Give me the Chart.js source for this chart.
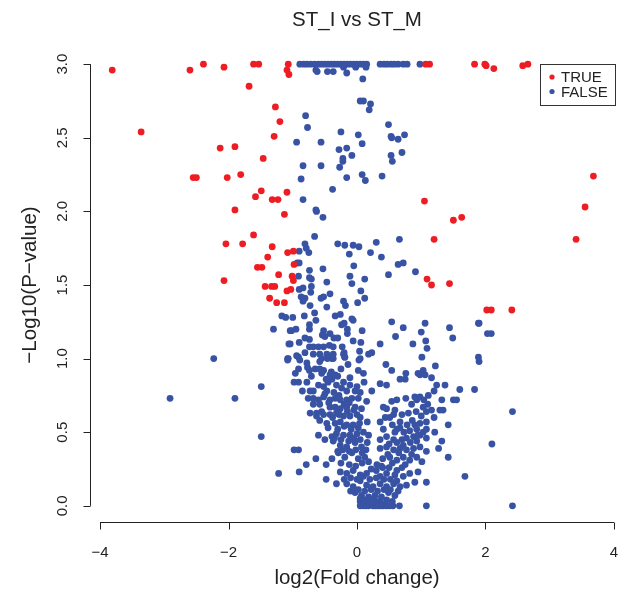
<!DOCTYPE html>
<html>
<head>
<meta charset="utf-8">
<script src="https://cdn.jsdelivr.net/npm/chart.js@4.4.1/dist/chart.umd.min.js"></script>
<style>
  body { margin: 0; background: #fff; }
  canvas { display: block; }
</style>
</head>
<body>
<canvas id="chart" width="624" height="594"></canvas>
<script>
// significant genes (TRUE)
const trueFC = [-3.81, -2.60, -2.39, -2.07, -1.61, -1.53, -1.07, -1.09, -1.06, -1.68,
  -1.27, -1.20, -1.29, -3.36, -2.13, -1.90, -1.46, -2.55, -2.50, -2.02,
  -1.81, -1.49, -1.58, -1.32, -1.23, -1.09, -1.90, -1.13, -1.61, -2.04,
  -1.78, -1.32, -1.08, -1.39, -1.55, -1.48, -1.22, -1.01, -2.07, -1.43,
  -1.33, -1.28, -1.09, -1.36, -1.25, -1.13, -0.99, -0.98, -0.99, -1.03,
  1.07, 1.13, 1.83, 1.99, 2.01, 2.13, 2.58, 2.66, 1.05, 1.50,
  1.63, 1.20, 1.09, 1.16, 1.44, 2.02, 2.09, 2.41, 3.68, 3.55, 3.41];
const trueP = [2.96, 2.96, 3.00, 2.98, 3.00, 3.00, 3.00, 2.96, 2.93, 2.85,
  2.71, 2.61, 2.51, 2.54, 2.43, 2.44, 2.36, 2.23, 2.23, 2.23,
  2.25, 2.14, 2.10, 2.08, 2.08, 2.13, 2.01, 1.98, 1.84, 1.78,
  1.78, 1.76, 1.72, 1.69, 1.62, 1.62, 1.57, 1.56, 1.53, 1.49,
  1.49, 1.49, 1.46, 1.41, 1.38, 1.38, 1.73, 1.64, 1.53, 1.47,
  3.00, 3.00, 3.00, 3.00, 2.99, 2.97, 2.99, 3.00, 2.07, 1.94,
  1.96, 1.81, 1.54, 1.50, 1.51, 1.33, 1.33, 1.33, 2.24, 2.03, 1.81];

// not significant genes (FALSE)
const falseFC = [
  // capped at 3.0
  -0.89, -0.83, -0.78, -0.72, -0.66, -0.60, -0.55, -0.50, -0.45, -0.40,
  -0.35, -0.30, -0.25, -0.20, -0.15, -0.10, -0.05, 0.00, 0.05, 0.10,
  0.15, 0.36, 0.42, 0.47, 0.53, 0.58, 0.64, 0.72, 0.78, 0.98,
  // upper area
  -0.64, -0.62, -0.46, -0.37, -0.21, -0.16, -0.02, 0.14, 0.09, 0.05,
  0.10, 0.21, 0.19, -0.80, 0.49, -0.77, -0.25, 0.02, 0.53, 0.54,
  0.64, 0.74, -0.94, -0.56, 0.08, -0.28, -0.16, -0.08, -0.22, -0.22,
  0.53, 0.70, 0.55, -0.84, -0.56, -0.27, -0.16, 0.08, 0.13, 0.39,
  -0.87, -0.38, -0.84, -0.64,
  // middle area
  -0.63, -0.53, -0.66, -0.81, -0.79, -0.75, -0.90, -0.30, -0.19, -0.06,
  0.03, -0.12, 0.30, 0.21, 0.38, 0.66, -0.93, -0.90, -0.05, 0.64,
  0.72, 0.91, 0.49, -0.74, -0.53, -0.91, -0.74, -0.71, -0.11, -0.47,
  0.12, -0.08, -0.71, -0.84, -0.90, -0.72, 0.06, -0.42, -0.87, -0.81,
  -0.84, -0.52, -0.56, 0.12, -0.21, -0.18, 0.01, -0.73, -0.47, -0.66,
  -1.17, -1.11, -1.00, -0.82, -0.34, -0.26, -0.64, -0.08, -0.06, 0.54,
  0.72, 1.06, 1.44, 1.89, -0.74, -0.74, -1.02, -0.95, -0.24, -0.20,
  -0.15, -0.15, 0.08, 0.60, 1.00, 1.07, 1.09, 1.49, 0.87, -0.52,
  -0.54, -0.50, -0.42, -0.36, -0.30, -0.81, -0.74, -0.90, -1.04, -0.06,
  0.06, 0.36, -0.74, -0.68, -0.60, -0.52, -0.43, -0.37, -0.23, -0.81,
  -0.68, -0.58, -0.47, -0.39, -0.20, 0.04, 0.18, 0.23, -1.07, -0.91,
  -0.55, -0.39, -0.19, 0.05, 1.01, 1.89, -1.30, -1.04, -1.06, -2.23,
  -1.08, 1.90, 2.03, 2.09, 1.90,
  // lower left and far points
  -1.08, -1.49, -2.91, -1.90, -1.49, -1.22, 1.83, 2.42, 2.10, 2.42,
  // volcano arms
  -0.94, -0.37, -0.21, -0.19, -0.89, -0.78, -0.58, -0.46, -0.37, -0.14,
  0.03, 0.45, 1.22, -0.96, -0.91, -0.77, -0.74, -0.71, -0.65, -0.58,
  -0.52, -0.42, -0.34, -0.21, -0.11, 0.02, 0.10, 0.11, 0.36, 0.46,
  0.54, 0.76, 0.67, 0.75, 0.95, 1.03, 0.98, 1.06, 1.16, 1.24,
  1.37, 1.60, -0.98, -0.91, -0.78, -0.85, -0.73, -0.68, -0.52, -0.47,
  -0.45, -0.39, -0.32, -0.24, -0.16, -0.03, 0.05, -0.11, 0.00, 0.23,
  -0.76, -0.68, -0.60, -0.52, -0.42, -0.34, -0.26, -0.16, -0.08, 0.02,
  0.15, 0.54, 0.62, 0.76, 0.90, 0.98, 0.93, 1.04, 1.11, 1.20,
  1.32, 1.50, 1.55, -0.68, -0.58, -0.42, -0.34, -0.26, -0.16, -0.03,
  0.07, 0.41, 0.46, 0.59, 0.57, 1.03, 1.08, 1.16, 1.29, 1.34,
  -0.73, -0.63, -0.52, -0.63, -0.42, -0.32, -0.21, -0.11, 0.00, 0.05,
  0.36, 0.44, 0.51, 0.67, 0.90, 0.98, 1.08, 1.20, 1.42, -0.58,
  -0.47, -0.34, -0.26, -0.16, -0.06, 0.04, 0.16, 0.41, 0.59, 0.67,
  0.73, 0.82, 0.93, 1.03, 1.08, 1.21, -0.60, -0.50, -0.39, -0.32,
  -0.21, -0.11, 0.00, 0.10, 0.18, 0.36, 0.46, 0.57, 0.70, 0.77,
  0.88, 0.98, 1.08, 1.32, 1.27, 1.42, -0.98, -0.91, -0.64, -0.79,
  -0.90, -0.48, -0.37, -0.26, -0.16, -0.03, 0.07, 0.16, 0.36, 0.46,
  0.57, 0.67, 0.77, 0.88, 0.98, 1.08, -0.39, -0.29, -0.19, -0.08,
  0.02, 0.12, 0.31, 0.38, 0.51, 0.62, 0.72, 0.82, 0.93, 1.01,
  0.95, 1.68, 1.08, 0.90, -0.26, -0.16, -0.06, 0.05, 0.15, 0.36,
  0.46, 0.59, 0.72, 0.82, -0.48, -0.32, -0.16, -0.06, 0.05, 0.15,
  0.25, 0.36, 0.46, 0.57, 0.67, 0.77, -0.03, 0.07, 0.18, 0.28,
  0.38, 0.49, 0.59, 0.15, 0.36, 0.25, 0.05, 0.46,
  // at zero
  0.10, 0.18, 0.25, 0.33, 0.41, 0.51, 0.66, 1.08];
const falseP = [
  3.00, 3.00, 3.00, 3.00, 3.00, 3.00, 3.00, 3.00, 3.00, 3.00,
  3.00, 3.00, 3.00, 3.00, 3.00, 3.00, 3.00, 3.00, 3.00, 3.00,
  3.00, 3.00, 3.00, 3.00, 3.00, 3.00, 3.00, 3.00, 3.00, 3.00,
  2.96, 2.95, 2.95, 2.95, 2.98, 2.94, 2.98, 2.98, 2.90, 2.75,
  2.75, 2.73, 2.69, 2.65, 2.59, 2.57, 2.54, 2.52, 2.51, 2.50,
  2.49, 2.52, 2.47, 2.47, 2.46, 2.42, 2.43, 2.38, 2.36, 2.34,
  2.38, 2.40, 2.34, 2.31, 2.31, 2.30, 2.23, 2.25, 2.21, 2.24,
  2.22, 2.15, 2.08, 2.01,
  2.00, 1.96, 1.83, 1.78, 1.75, 1.72, 1.73, 1.78, 1.77, 1.77,
  1.76, 1.71, 1.79, 1.72, 1.69, 1.81, 1.65, 1.65, 1.63, 1.64,
  1.65, 1.59, 1.57, 1.60, 1.61, 1.56, 1.55, 1.54, 1.56, 1.52,
  1.54, 1.51, 1.49, 1.48, 1.47, 1.45, 1.46, 1.44, 1.42, 1.41,
  1.39, 1.42, 1.41, 1.41, 1.39, 1.36, 1.38, 1.36, 1.35, 1.31,
  1.29, 1.28, 1.28, 1.29, 1.29, 1.30, 1.26, 1.27, 1.26, 1.25,
  1.21, 1.24, 1.21, 1.24, 1.23, 1.20, 1.19, 1.20, 1.23, 1.24,
  1.20, 1.17, 1.19, 1.15, 1.18, 1.12, 1.07, 1.14, 1.10, 1.19,
  1.16, 1.15, 1.17, 1.14, 1.14, 1.14, 1.13, 1.11, 1.10, 1.12,
  1.11, 1.10, 1.08, 1.08, 1.08, 1.08, 1.09, 1.08, 1.08, 1.04,
  1.03, 1.03, 1.03, 1.02, 1.04, 1.05, 1.03, 1.04, 1.00, 1.01,
  1.00, 1.00, 1.01, 1.00, 1.01, 1.01, 1.20, 1.19, 1.10, 1.00,
  1.00, 1.24, 1.17, 1.17, 0.98,
  0.99, 0.81, 0.73, 0.73, 0.47, 0.22, 0.79, 0.64, 0.42, 0.00,
  1.02, 1.03, 1.03, 1.01, 0.99, 0.97, 0.98, 1.00, 1.00, 0.96,
  0.99, 0.96, 0.95, 0.90, 0.93, 0.94, 0.92, 0.88, 0.93, 0.93,
  0.92, 0.89, 0.89, 0.84, 0.87, 0.92, 0.90, 0.84, 0.83, 0.82,
  0.92, 0.90, 0.86, 0.86, 0.90, 0.92, 0.89, 0.89, 0.87, 0.82,
  0.82, 0.79, 0.84, 0.84, 0.84, 0.78, 0.78, 0.78, 0.81, 0.78,
  0.84, 0.86, 0.82, 0.80, 0.78, 0.78, 0.77, 0.82, 0.81, 0.78,
  0.73, 0.73, 0.72, 0.74, 0.72, 0.73, 0.72, 0.72, 0.73, 0.73,
  0.71, 0.71, 0.72, 0.73, 0.74, 0.74, 0.72, 0.72, 0.75, 0.78,
  0.72, 0.72, 0.72, 0.69, 0.69, 0.67, 0.67, 0.66, 0.67, 0.67,
  0.66, 0.67, 0.66, 0.65, 0.62, 0.67, 0.64, 0.65, 0.65, 0.65,
  0.63, 0.63, 0.62, 0.61, 0.62, 0.63, 0.61, 0.61, 0.62, 0.60,
  0.57, 0.60, 0.60, 0.57, 0.55, 0.56, 0.57, 0.60, 0.55, 0.58,
  0.56, 0.56, 0.57, 0.55, 0.55, 0.56, 0.57, 0.52, 0.50, 0.53,
  0.50, 0.51, 0.52, 0.50, 0.52, 0.50, 0.48, 0.45, 0.47, 0.49,
  0.48, 0.48, 0.49, 0.50, 0.48, 0.45, 0.47, 0.45, 0.45, 0.46,
  0.47, 0.48, 0.46, 0.44, 0.39, 0.33, 0.38, 0.38, 0.32, 0.28,
  0.23, 0.28, 0.44, 0.41, 0.40, 0.43, 0.40, 0.43, 0.39, 0.40,
  0.38, 0.39, 0.38, 0.39, 0.40, 0.37, 0.32, 0.36, 0.33, 0.36,
  0.32, 0.33, 0.28, 0.27, 0.33, 0.31, 0.33, 0.31, 0.33, 0.30,
  0.23, 0.20, 0.16, 0.16, 0.23, 0.22, 0.24, 0.21, 0.22, 0.20,
  0.22, 0.21, 0.20, 0.22, 0.18, 0.15, 0.15, 0.13, 0.17, 0.14,
  0.13, 0.15, 0.13, 0.15, 0.13, 0.14, 0.09, 0.07, 0.06, 0.07,
  0.06, 0.09, 0.07, 0.03, 0.03, 0.04, 0.03, 0.04,
  0.00, 0.00, 0.00, 0.00, 0.00, 0.00, 0.00, 0.00];

// dense core of the volcano (FALSE)
const coreFC = [-0.55, -0.48, -0.40, -0.30, -0.25, -0.60, -0.50, -0.36, -0.28, -0.44,
  -0.20, -0.12, -0.55, -0.38, -0.28, -0.15, -0.05, -0.45, -0.30, -0.20,
  -0.09, 0.02, -0.35, -0.25, -0.13, -0.05, 0.05, -0.30, -0.22, -0.12,
  -0.02, 0.08, 0.14, -0.25, -0.12, -0.02, 0.08, 0.18, -0.20, -0.10,
  0.00, 0.10, 0.20, 0.30, 0.42, 0.52, 0.62, -0.10, 0.02, 0.12,
  0.22, 0.32, 0.42, 0.52, 0.64, 0.05, 0.12, 0.20, 0.30, 0.40,
  0.55, 0.22, 0.30, 0.40, 0.50, 0.62, 0.70, 0.40, 0.48, 0.55,
  0.65, 0.75, 0.85, 0.50, 0.62, 0.72, 0.83, 0.93, 0.55, 0.62,
  0.78, 0.86, 0.95, 0.70, 0.80, 0.92, 1.00, 0.85, 1.10,
  0.05, 0.14, 0.29, 0.37, 0.46, 0.56];
const coreP = [0.90, 0.86, 0.91, 0.88, 0.93, 0.82, 0.76, 0.77, 0.75, 0.70,
  0.69, 0.70, 0.64, 0.60, 0.62, 0.64, 0.65, 0.53, 0.52, 0.54,
  0.52, 0.53, 0.46, 0.45, 0.44, 0.46, 0.45, 0.37, 0.38, 0.37,
  0.38, 0.36, 0.38, 0.29, 0.28, 0.27, 0.29, 0.30, 0.18, 0.19,
  0.18, 0.20, 0.18, 0.19, 0.18, 0.18, 0.17, 0.10, 0.11, 0.10,
  0.11, 0.10, 0.11, 0.11, 0.10, 0.05, 0.04, 0.02, 0.03, 0.01,
  0.03, 0.25, 0.24, 0.26, 0.26, 0.24, 0.26, 0.32, 0.35, 0.29,
  0.36, 0.28, 0.35, 0.42, 0.43, 0.41, 0.43, 0.44, 0.55, 0.52,
  0.55, 0.58, 0.48, 0.62, 0.63, 0.64, 0.61, 0.69, 0.69,
  0.00, 0.00, 0.00, 0.00, 0.00, 0.00];

const xTicks = [-4, -2, 0, 2, 4];
const yTicks = [0, 0.5, 1, 1.5, 2, 2.5, 3];
const legendLabels = ['TRUE', 'FALSE'];

const RED = '#EE1D23';
const BLUE = '#3953A4';
const FONT = '"Liberation Sans", Arial, Helvetica, sans-serif';

function toPoints(xs, ys) {
  return xs.map((x, i) => ({ x: x, y: ys[i] }));
}

const rAxes = {
  id: 'rAxes',
  afterDraw(chart) {
    const ctx = chart.ctx;
    const xs = chart.scales.x, ys = chart.scales.y;
    const area = chart.chartArea;
    ctx.save();
    ctx.strokeStyle = '#222';
    ctx.fillStyle = '#222';
    ctx.lineWidth = 1;

    // x axis
    const ax = Math.round(area.bottom) + 0.5;
    const x0 = xs.getPixelForValue(xTicks[0]);
    const x1 = xs.getPixelForValue(xTicks[xTicks.length - 1]);
    ctx.beginPath();
    ctx.moveTo(x0, ax); ctx.lineTo(x1, ax);
    xTicks.forEach(t => {
      const p = Math.round(xs.getPixelForValue(t)) + 0.5;
      ctx.moveTo(p, ax); ctx.lineTo(p, ax + 7);
    });
    ctx.stroke();
    ctx.font = '15px ' + FONT;
    ctx.textAlign = 'center';
    ctx.textBaseline = 'middle';
    xTicks.forEach(t => {
      const lbl = t < 0 ? '\u2212' + Math.abs(t) : String(t);
      ctx.fillText(lbl, xs.getPixelForValue(t), ax + 30);
    });

    // y axis
    const ay = Math.round(area.left) + 0.5;
    const y0 = ys.getPixelForValue(yTicks[0]);
    const y1 = ys.getPixelForValue(yTicks[yTicks.length - 1]);
    ctx.beginPath();
    ctx.moveTo(ay, y0); ctx.lineTo(ay, y1);
    yTicks.forEach(t => {
      const p = Math.round(ys.getPixelForValue(t)) + 0.5;
      ctx.moveTo(ay, p); ctx.lineTo(ay - 7, p);
    });
    ctx.stroke();
    yTicks.forEach(t => {
      ctx.save();
      ctx.translate(ay - 28, ys.getPixelForValue(t));
      ctx.rotate(-Math.PI / 2);
      ctx.fillText(t.toFixed(1), 0, 0);
      ctx.restore();
    });

    // titles
    ctx.font = '20.5px ' + FONT;
    const cx = (area.left + area.right) / 2;
    ctx.fillText('ST_I vs ST_M', cx, 20);
    ctx.fillText('log2(Fold change)', cx, 578);
    ctx.save();
    ctx.translate(30, (area.top + area.bottom) / 2);
    ctx.rotate(-Math.PI / 2);
    ctx.fillText('\u2212Log10(P\u2212value)', 0, 0);
    ctx.restore();

    // legend
    ctx.strokeStyle = '#333';
    ctx.strokeRect(540.5, 64.5, 75, 41);
    ctx.font = '15px ' + FONT;
    ctx.textAlign = 'left';
    const cols = [RED, BLUE];
    legendLabels.forEach((l, i) => {
      const yy = 77 + i * 14.5;
      ctx.fillStyle = cols[i];
      ctx.beginPath();
      ctx.arc(552, yy, 2.6, 0, Math.PI * 2);
      ctx.fill();
      ctx.fillStyle = '#222';
      ctx.fillText(l, 561, yy + 1);
    });
    ctx.restore();
  }
};

new Chart(document.getElementById('chart'), {
  type: 'scatter',
  data: {
    datasets: [
      {
        label: legendLabels[0],
        data: toPoints(trueFC, trueP),
        backgroundColor: RED,
        borderWidth: 0,
        pointRadius: 3.4,
        order: 0
      },
      {
        label: legendLabels[1],
        data: toPoints(falseFC.concat(coreFC), falseP.concat(coreP)),
        backgroundColor: BLUE,
        borderWidth: 0,
        pointRadius: 3.4,
        order: 1
      }
    ]
  },
  options: {
    responsive: false,
    animation: false,
    layout: { autoPadding: false, padding: { left: 90, right: 0, top: 48, bottom: 72 } },
    plugins: { legend: { display: false }, tooltip: { enabled: false } },
    scales: {
      x: { type: 'linear', display: false, min: -4.156, max: 4.156 },
      y: { type: 'linear', display: false, min: -0.11, max: 3.11 }
    }
  },
  plugins: [rAxes]
});
</script>
</body>
</html>
